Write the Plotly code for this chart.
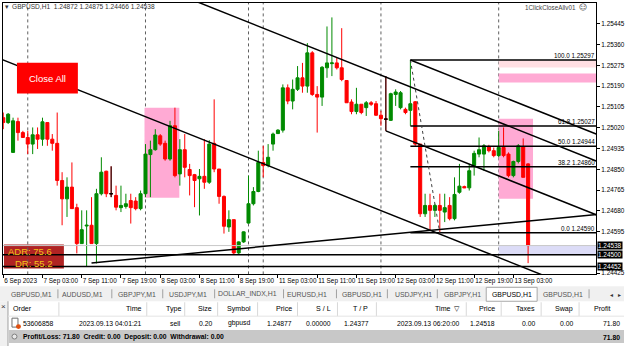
import plotly.graph_objects as go

W, H = 625, 348
def fx(x): return x / W
def fy(y): return 1 - y / H

FONT = "Liberation Sans"
GREEN = "#008a00"
RED = "#ff0000"
PINK = "#ffaad4"

# ---------------- data ----------------
opens = [1.25061,1.25041,1.24919,1.25045,1.25000,1.24980,1.24953,1.24991,1.24973,1.25041,
         1.24973,1.24956,1.24804,1.24729,1.24777,1.24693,1.24546,1.24618,1.24621,1.24546,
         1.24750,1.24842,1.24750,1.24743,1.24693,1.24698,1.24722,1.24720,1.24689,1.24750,
         1.24910,1.24930,1.24987,1.24956,1.24892,1.25028,1.24831,1.24930,1.24849,1.24828,
         1.24811,1.24821,1.24797,1.24956,1.24851,1.24739,1.24614,1.24644,1.24508,1.24553,
         1.24630,1.24709,1.24759,1.24878,1.24865,1.24953,1.24996,1.25010,1.25183,1.25129,
         1.25177,1.25224,1.25190,1.25326,1.25156,1.25145,1.25265,1.25282,1.25285,1.25265,
         1.25213,1.25125,1.25086,1.25116,1.25102,1.25122,1.25118,1.25071,1.25055,1.25050,
         1.25156,1.25102,1.25095,1.25091,1.25126,1.24953,1.24668,1.24702,1.24682,1.24702,
         1.24675,1.24702,1.24648,1.24756,1.24779,1.24774,1.24865,1.24912,1.24912,1.24942,
         1.24926,1.24906,1.24939,1.24912,1.24824,1.24882,1.24943,1.24872]
highs = [1.25082,1.25080,1.25061,1.25061,1.25007,1.25007,1.25021,1.25021,1.25061,1.25041,
         1.24994,1.25082,1.24838,1.24817,1.24878,1.24709,1.24682,1.24682,1.24736,1.24770,
         1.24899,1.24844,1.24862,1.24783,1.24783,1.24750,1.24750,1.24736,1.24763,1.24953,
         1.24967,1.25014,1.24994,1.24967,1.25048,1.25102,1.24973,1.24994,1.24872,1.24831,
         1.24851,1.24973,1.24969,1.25136,1.24851,1.24743,1.24682,1.24644,1.24555,1.24596,
         1.24824,1.24777,1.24926,1.24946,1.24953,1.25000,1.25014,1.25197,1.25197,1.25217,
         1.25272,1.25285,1.25366,1.25333,1.25190,1.25272,1.25434,1.25471,1.25305,1.25427,
         1.25213,1.25136,1.25183,1.25116,1.25129,1.25129,1.25129,1.25089,1.25231,1.25163,
         1.25177,1.25170,1.25102,1.25297,1.25129,1.24953,1.24750,1.24750,1.24709,1.24750,
         1.24750,1.24736,1.24817,1.24872,1.24783,1.24872,1.24926,1.24980,1.24953,1.24950,
         1.24939,1.25007,1.25021,1.24919,1.24885,1.24953,1.24976,1.24875]
lows = [1.25014,1.25035,1.24917,1.24967,1.24978,1.24912,1.24912,1.24933,1.24946,1.24946,
        1.24926,1.24783,1.24621,1.24655,1.24689,1.24506,1.24546,1.24452,1.24546,1.24465,
        1.24743,1.24736,1.24736,1.24682,1.24675,1.24689,1.24628,1.24682,1.24682,1.24736,
        1.24736,1.24926,1.24946,1.24885,1.24885,1.24817,1.24783,1.24817,1.24743,1.24695,
        1.24661,1.24770,1.24790,1.24838,1.24709,1.24587,1.24594,1.24500,1.24503,1.24549,
        1.24628,1.24702,1.24756,1.24817,1.24858,1.24926,1.24994,1.25000,1.25116,1.25095,
        1.25170,1.25163,1.25163,1.25150,1.25000,1.25109,1.25224,1.25231,1.25258,1.25210,
        1.25122,1.25075,1.25075,1.25075,1.25068,1.25109,1.25068,1.25028,1.25007,1.25048,
        1.25109,1.25095,1.25075,1.25028,1.24946,1.24655,1.24655,1.24600,1.24655,1.24590,
        1.24634,1.24641,1.24641,1.24750,1.24773,1.24763,1.24824,1.24899,1.24844,1.24919,
        1.24899,1.24899,1.24899,1.24817,1.24817,1.24874,1.24817,1.24466]
closes = [1.25041,1.25075,1.25048,1.25000,1.24980,1.24953,1.24991,1.24973,1.25044,1.24973,
          1.24956,1.24804,1.24729,1.24777,1.24689,1.24546,1.24603,1.24621,1.24546,1.24750,
          1.24838,1.24750,1.24750,1.24695,1.24702,1.24709,1.24693,1.24689,1.24750,1.24912,
          1.24930,1.24990,1.24953,1.24892,1.25028,1.24824,1.24930,1.24858,1.24824,1.24804,
          1.24821,1.24797,1.24953,1.24851,1.24739,1.24617,1.24644,1.24508,1.24553,1.24594,
          1.24709,1.24759,1.24878,1.24865,1.24899,1.24994,1.25010,1.25183,1.25129,1.25177,
          1.25224,1.25190,1.25326,1.25156,1.25145,1.25267,1.25285,1.25285,1.25265,1.25217,
          1.25122,1.25086,1.25116,1.25082,1.25122,1.25116,1.25071,1.25057,1.25055,1.25159,
          1.25166,1.25163,1.25082,1.25118,1.24953,1.24668,1.24702,1.24682,1.24702,1.24682,
          1.24693,1.24648,1.24747,1.24781,1.24774,1.24844,1.24915,1.24930,1.24946,1.24926,
          1.24906,1.24939,1.24906,1.24824,1.24882,1.24946,1.24817,1.24538]
bars = list(range(len(opens)))
doji_bars = [22, 78]

time_tick_bars = [0, 8, 16, 24, 32, 40, 48, 56, 64, 72, 80, 88, 96, 104]
time_tick_labels = ["6 Sep 2023", "7 Sep 03:00", "7 Sep 11:00", "7 Sep 19:00", "8 Sep 03:00",
                    "8 Sep 11:00", "8 Sep 19:00", "11 Sep 03:00", "11 Sep 11:00", "11 Sep 19:00",
                    "12 Sep 03:00", "12 Sep 11:00", "12 Sep 19:00", "13 Sep 03:00"]
price_ticks = [1.24425, 1.24595, 1.24680, 1.24765, 1.24850, 1.24935, 1.25020,
               1.25105, 1.25190, 1.25275, 1.25360, 1.25445]
separator_bars = [5, 29, 50, 53, 77, 101]

fib_levels = ["0.0", "38.2", "50.0", "61.8", "100.0"]
fib_prices = [1.24590, 1.24860, 1.24944, 1.25027, 1.25297]
fib_start_bar = 83
fib_diag_bars = [83, 89]
fib_diag_prices = [1.25297, 1.24590]

line_a_bars, line_a_prices = [30, 121], [1.25611, 1.24883]
line_b_bars, line_b_prices = [-1, 121], [1.25305, 1.24329]
line_f_bars, line_f_prices = [83, 121], [1.25297, 1.24993]
line_g_bars, line_g_prices = [78, 121], [1.25007, 1.24663]
line_h_bars, line_h_prices = [18, 121], [1.24467, 1.24665]

level_prices = [1.24500, 1.24452]
bid_price = 1.24538

zone_bars = [[28.8, 35.9], [101, 108]]
zone_prices = [[1.24733, 1.25102], [1.24729, 1.25057]]
top_zone_prices = [[1.25266, 1.25295], [1.25205, 1.25242]]
top_zone_colors = ["#ffdfe3", PINK]
right_zone_start = 101

header_text = "GBPUSD,H1  1.24872 1.24875 1.24466 1.24538"
adr_text = "ADR: 75.6"
dr_text = "DR: 55.2"

tabs = ["GBPUSD,M1", "AUDUSD,M1", "GBPJPY,M1", "USDJPY,M1", "DOLLAR_INDX,H1", "EURUSD,H1",
        "GBPUSD,H1", "USDJPY,H1", "GBPJPY,H1", "GBPUSD,H1", "GBPUSD,H1"]
active_tab = 9
col_headers = ["Order", "Time", "Type", "Size", "Symbol", "Price", "S / L", "T / P",
               "Time  \u25bd", "Price", "Taxes", "Swap", "Profit"]
row_values = ["53606858", "2023.09.13 04:01:21", "sell", "0.20", "gbpusd", "1.24877",
              "0.00000", "1.24377", "2023.09.13 06:20:00", "1.24518", "0.00", "0.00", "71.80"]
summary_text = "Profit/Loss: 71.80  Credit: 0.00  Deposit: 0.00  Withdrawal: 0.00"
summary_total = "71.80"

# ---------------- layout constants (pixels) ----------------
PL, PR, PT, PB = 3, 597, 3, 276
tab_x = [32, 83, 137, 188, 248, 307, 363, 414, 463, 513, 564]
tab_seps = [58, 112, 163, 215, 284, 337, 388, 438, 590]
col_right = [None, 143, 182, 213, 252, 293, 333, 371, 462, 497, 537, 575, 622]
hdr_right = [None, 143, 182, 213, 252, 293, 333, 370, 462, 497, 537, 575, 613]
col_seps = [59, 147, 185, 218, 258, 298, 338, 377, 467, 502, 542, 580]
TBL = 6.8

fig = go.Figure()

fig.add_trace(go.Candlestick(
    x=bars, open=opens, high=highs, low=lows, close=closes,
    increasing=dict(line=dict(color=GREEN, width=1), fillcolor=GREEN),
    decreasing=dict(line=dict(color=RED, width=1), fillcolor=RED),
    whiskerwidth=0, hoverinfo="skip", showlegend=False))
fig.add_trace(go.Candlestick(
    x=doji_bars, open=[opens[i] for i in doji_bars], high=[highs[i] for i in doji_bars],
    low=[lows[i] for i in doji_bars], close=[closes[i] for i in doji_bars],
    increasing=dict(line=dict(color="black", width=1), fillcolor="black"),
    decreasing=dict(line=dict(color="black", width=1), fillcolor="black"),
    whiskerwidth=0, hoverinfo="skip", showlegend=False))

shapes = []
for xb, pr in zip(zone_bars, zone_prices):
    shapes.append(dict(type="rect", xref="x", yref="y", x0=xb[0], x1=xb[1], y0=pr[0], y1=pr[1],
                       fillcolor=PINK, line=dict(width=0), layer="below"))
for pr, col in zip(top_zone_prices, top_zone_colors):
    shapes.append(dict(type="rect", xref="x", yref="y", x0=right_zone_start, x1=130, y0=pr[0], y1=pr[1],
                       fillcolor=col, line=dict(width=0), layer="below"))
shapes.append(dict(type="rect", xref="x", yref="y", x0=right_zone_start, x1=130,
                   y0=level_prices[0], y1=bid_price, fillcolor="#dcdcf7", line=dict(width=0), layer="below"))
shapes.append(dict(type="rect", xref="paper", yref="paper", x0=fx(4), x1=fx(64), y0=fy(270), y1=fy(246),
                   fillcolor="#b02323", line=dict(width=0), layer="below"))
for b in separator_bars:
    shapes.append(dict(type="line", xref="x", yref="paper", x0=b, x1=b, y0=fy(PB), y1=fy(PT),
                       line=dict(color="#606060", width=1, dash="dot"), layer="below"))
shapes.append(dict(type="line", xref="x", yref="y", x0=-5, x1=130, y0=bid_price, y1=bid_price,
                   line=dict(color="#c8c8c8", width=1), layer="above"))
for p in level_prices:
    shapes.append(dict(type="line", xref="x", yref="y", x0=-5, x1=130, y0=p, y1=p,
                       line=dict(color="black", width=1.5), layer="above"))
for p in fib_prices:
    shapes.append(dict(type="line", xref="x", yref="y", x0=fib_start_bar, x1=130, y0=p, y1=p,
                       line=dict(color="black", width=1.5), layer="above"))
shapes.append(dict(type="line", xref="x", yref="y", x0=fib_diag_bars[0], x1=fib_diag_bars[1],
                   y0=fib_diag_prices[0], y1=fib_diag_prices[1],
                   line=dict(color="#404040", width=1, dash="dot"), layer="above"))
for xs, ys in [(line_a_bars, line_a_prices), (line_b_bars, line_b_prices), (line_f_bars, line_f_prices),
               (line_g_bars, line_g_prices), (line_h_bars, line_h_prices)]:
    shapes.append(dict(type="line", xref="x", yref="y", x0=xs[0], x1=xs[1], y0=ys[0], y1=ys[1],
                       line=dict(color="black", width=1.5), layer="above"))
shapes.append(dict(type="rect", xref="paper", yref="paper", x0=fx(17), x1=fx(78), y0=fy(94), y1=fy(63),
                   fillcolor="#ff0000", line=dict(width=0), layer="above"))

# tab bar
shapes.append(dict(type="rect", xref="paper", yref="paper", x0=0, x1=1, y0=fy(303), y1=fy(288),
                   fillcolor="#f0f0f0", line=dict(width=0)))
shapes.append(dict(type="rect", xref="paper", yref="paper", x0=fx(487), x1=fx(538), y0=fy(303), y1=fy(289),
                   fillcolor="white", line=dict(color="#a8a8a8", width=1)))
for s in tab_seps:
    shapes.append(dict(type="line", xref="paper", yref="paper", x0=fx(s), x1=fx(s), y0=fy(300), y1=fy(291),
                       line=dict(color="#a0a0a0", width=1)))
# table
shapes.append(dict(type="rect", xref="paper", yref="paper", x0=0, x1=fx(8), y0=0, y1=fy(303),
                   fillcolor="#f0f0f0", line=dict(width=0)))
shapes.append(dict(type="line", xref="paper", yref="paper", x0=fx(8), x1=fx(8), y0=0, y1=fy(303),
                   line=dict(color="#a0a0a0", width=1)))
for s in col_seps:
    shapes.append(dict(type="line", xref="paper", yref="paper", x0=fx(s), x1=fx(s), y0=fy(318), y1=fy(304),
                       line=dict(color="#d8d8d8", width=1)))
shapes.append(dict(type="line", xref="paper", yref="paper", x0=fx(8), x1=1, y0=fy(318), y1=fy(318),
                   line=dict(color="#e4e4e4", width=1)))
shapes.append(dict(type="rect", xref="paper", yref="paper", x0=fx(9), x1=1, y0=fy(345), y1=fy(332),
                   fillcolor="#c8c8c8", line=dict(width=0)))
shapes.append(dict(type="rect", xref="paper", yref="paper", x0=fx(12), x1=fx(18), y0=fy(329), y1=fy(320),
                   fillcolor="white", line=dict(color="#707070", width=1)))
shapes.append(dict(type="circle", xref="paper", yref="paper", x0=fx(16), x1=fx(21), y0=fy(331), y1=fy(326),
                   fillcolor="#e05010", line=dict(width=0)))
shapes.append(dict(type="circle", xref="paper", yref="paper", x0=fx(12), x1=fx(17), y0=fy(341), y1=fy(336),
                   fillcolor="#e8e8e8", line=dict(color="#808080", width=1)))

ann = []
def A(x, y, text, size=7, color="black", xanchor="left", bold=False, xref="paper", yref="paper",
      family=FONT, yanchor="middle", **kw):
    t = f"<b>{text}</b>" if bold else text
    ann.append(dict(x=x, y=y, xref=xref, yref=yref, text=t, showarrow=False, xanchor=xanchor,
                    yanchor=yanchor, font=dict(family=family, size=size, color=color), borderpad=0, **kw))

A(fx(4), fy(7), "\u25be", size=7, color="#333")
A(fx(11), fy(7), header_text, size=6.6, color="#333")
A(fx(578), fy(8), "1ClickCloseAllv01", size=6.3, color="#444", xanchor="right")
A(fx(579), fy(8), "\u263a", size=8, color="#444", family="DejaVu Sans")
A(fx(47.5), fy(79), "Close All", size=9.5, color="white", xanchor="center")
A(fx(7), fy(253), adr_text, size=9.5, color="#f2c21a")
A(fx(14), fy(265), dr_text, size=9.5, color="#f2c21a")

for lvl, p in zip(fib_levels, fib_prices):
    A(fx(597), p, f"{lvl} {p:.5f}", size=6.3, xanchor="right", yref="y", yanchor="bottom")

for p in [bid_price] + level_prices:
    A(fx(598), p, f"{p:.5f}", size=6.4, color="white", bgcolor="black", yref="y")

for i, (t, x) in enumerate(zip(tabs, tab_x)):
    A(fx(x), fy(296), t, size=6.9, color="black" if i == active_tab else "#555", xanchor="center")
A(fx(612), fy(296), "\u25c2", size=6, color="#333", xanchor="center", family="DejaVu Sans")
A(fx(620), fy(296), "\u25b8", size=6, color="#333", xanchor="center", family="DejaVu Sans")
A(fx(4), fy(308), "\u00d7", size=8, color="#333", xanchor="center")

for h, r in zip(col_headers, hdr_right):
    if r is None:
        A(fx(12), fy(311), h, size=TBL + 0.3)
    else:
        A(fx(r), fy(311), h, size=TBL + 0.3, xanchor="right")
for v, r in zip(row_values, col_right):
    if r is None:
        A(fx(22), fy(325), v, size=TBL)
    else:
        A(fx(r), fy(325), v, size=TBL, xanchor="right")
A(fx(22), fy(339), summary_text, size=TBL, bold=True)
A(fx(622), fy(339), summary_total, size=TBL, bold=True, xanchor="right")

fig.update_layout(
    width=W, height=H, margin=dict(l=0, r=0, t=0, b=0),
    paper_bgcolor="white", plot_bgcolor="white",
    boxgap=0.38, boxgroupgap=0,
    shapes=shapes, annotations=ann, showlegend=False,
    xaxis=dict(domain=[fx(PL), fx(PR)], range=[-0.05, 120.85], showgrid=False, zeroline=False,
               tickvals=time_tick_bars, ticktext=time_tick_labels, ticklabelposition="outside right",
               tickangle=0, tickfont=dict(family=FONT, size=6.4, color="black"),
               ticks="outside", ticklen=3, tickcolor="black",
               showline=True, linecolor="black", linewidth=1, mirror=True,
               rangeslider=dict(visible=False), fixedrange=True),
    yaxis=dict(domain=[fy(PB), fy(PT)], range=[1.24420, 1.25530], side="right", showgrid=False,
               zeroline=False, tickvals=price_ticks, ticktext=[f"{p:.5f}" for p in price_ticks],
               tickfont=dict(family=FONT, size=6.4, color="black"), ticks="outside", ticklen=3,
               tickcolor="black", showline=True, linecolor="black", linewidth=1, mirror=True,
               fixedrange=True),
)

fig.write_html("out.html")
